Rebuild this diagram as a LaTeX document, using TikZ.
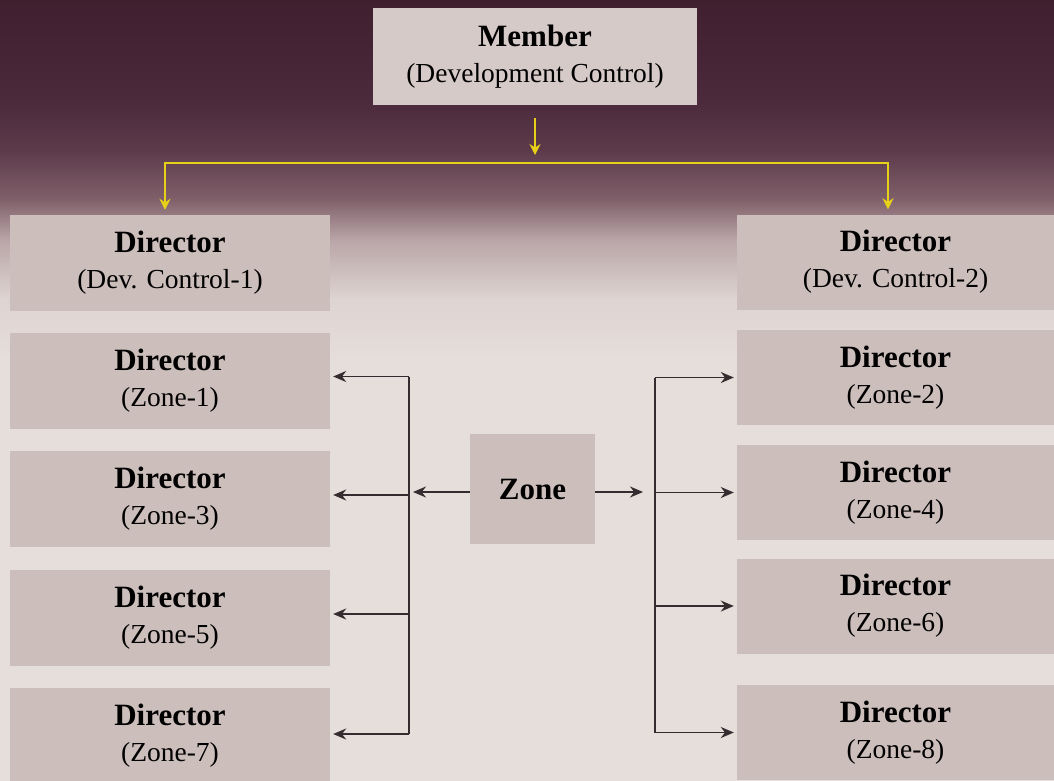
\documentclass[tikz,border=0pt]{standalone}
\usepackage{fontspec}
\setmainfont{Liberation Serif}
\usetikzlibrary{arrows.meta}

\definecolor{boxfill}{RGB}{204,190,186}
\definecolor{memfill}{RGB}{214,202,200}
\definecolor{linegray}{RGB}{52,44,46}
\definecolor{linkyellow}{RGB}{230,208,24}
\definecolor{bgtop}{RGB}{64,32,47}
\definecolor{bgmid}{RGB}{74,42,59}
\definecolor{bgmidb}{RGB}{92,58,74}
\definecolor{bgpink}{RGB}{128,96,106}
\definecolor{bgrose}{RGB}{186,166,168}
\definecolor{bglight}{RGB}{222,212,210}
\definecolor{bgbase}{RGB}{230,222,219}

\pgfdeclareverticalshading{bgshade}{100bp}{color(0bp)=(bgbase); color(25bp)=(bgbase); color(51.9bp)=(bgbase); color(55.8bp)=(bglight); color(59.6bp)=(bgrose); color(62.2bp)=(bgpink); color(65.4bp)=(bgmidb); color(68.6bp)=(bgmid); color(75bp)=(bgtop); color(100bp)=(bgtop)}

\newcommand{\hd}[1]{{\fontsize{31}{36}\selectfont\bfseries #1}}

\tikzset{
  box/.style={fill=boxfill, minimum width=320pt, minimum height=96pt, inner sep=0pt,
    align=center, font=\fontsize{27.5}{36}\selectfont},
  membox/.style={box, fill=memfill, minimum width=324pt, minimum height=97pt},
  bus/.style={draw=linegray, line width=1.6pt},
  arr/.style={bus, -{Stealth[length=13pt,width=11pt]}, shorten >=3pt},
  yarr/.style={draw=linkyellow, line width=2.2pt, -{Stealth[length=11pt,width=11pt]}}
}

\begin{document}
\begin{tikzpicture}[x=1pt,y=-1pt]
  \useasboundingbox (0,0) rectangle (1054,780);
  \shade[shading=bgshade] (0,0) rectangle (1054,780);

  % top of the chart
  \node[membox] (member) at (535,56.5) {\hd{Member}\\(Development Control)};
  \node[box] (dev1) at (170,263) {\hd{Director}\\(Dev. Control-1)};
  \node[box, minimum width=317pt, minimum height=95pt] (dev2) at (895.5,262) {\hd{Director}\\(Dev. Control-2)};

  % zone directors
  \foreach \n/\y in {1/380.5,3/499,5/618,7/736}
    \node[box] (z\n) at (170,\y) {\hd{Director}\\(Zone-\n)};
  \foreach \n/\y in {2/377.5,4/492.5,6/606,8/732.5}
    \node[box, minimum width=317pt, minimum height=95pt] (z\n) at (895.5,\y) {\hd{Director}\\(Zone-\n)};
  \node[box, minimum width=125pt, minimum height=110pt] (zone) at (532.5,489) {\hd{Zone}};

  % yellow links
  \coordinate (split) at (535,163);
  \draw[yarr] ([yshift=-13pt]member.south) -- ([yshift=8pt]split);
  \draw[yarr] (split) -| ([xshift=-5pt,yshift=5pt]dev1.north);
  \draw[yarr] (split) -| ([xshift=-7.5pt,yshift=5pt]dev2.north);

  % buses
  \coordinate (lbus) at (409,0);
  \coordinate (rbus) at (655,0);
  \draw[bus] ([yshift=4pt]lbus |- z1) -- ([yshift=2pt]lbus |- z7);
  \draw[bus] (rbus |- z2) -- (rbus |- z8);
  \foreach \n in {1,3,5}
    \draw[arr] ([yshift=4pt]lbus |- z\n) -- ([yshift=4pt]z\n.east);
  \draw[arr] ([yshift=2pt]lbus |- z7) -- ([yshift=2pt]z7.east);
  \foreach \n in {2,4,6,8}
    \draw[arr] (rbus |- z\n) -- (z\n.west);
  \draw[arr, shorten >=0pt] ([yshift=-3pt]zone.west) -- ([xshift=4pt,yshift=-3pt]lbus |- zone.west);
  \draw[arr, shorten >=0pt] ([yshift=-3pt]zone.east) -- ([xshift=-12pt,yshift=-3pt]rbus |- zone.east);
\end{tikzpicture}
\end{document}
